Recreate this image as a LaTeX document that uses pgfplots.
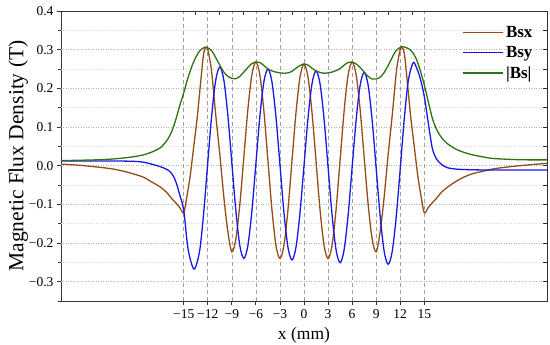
\documentclass[border=0pt]{standalone}
\usepackage{pgfplots}
\pgfplotsset{compat=1.18}
\usepackage{fontspec}
\setmainfont{Liberation Serif}
\definecolor{cbrown}{RGB}{150,75,25}
\definecolor{cblue}{RGB}{25,25,230}
\definecolor{cgreen}{RGB}{45,115,20}
\begin{document}
\begin{tikzpicture}
\useasboundingbox (-61pt,-44pt) rectangle (489pt,301pt);
\begin{axis}[
  at={(0,0)}, anchor=south west,
  scale only axis, width=486pt, height=290pt,
  xmin=-30.3, xmax=30.3, ymin=-0.35, ymax=0.4,
  axis line style={line width=0.8pt, black!80},
  xtick={-15,-12,-9,-6,-3,0,3,6,9,12,15},
  xticklabels={−15,−12,−9,−6,−3,0,3,6,9,12,15},
  ytick={-0.3,-0.2,-0.1,0,0.1,0.2,0.3,0.4},
  yticklabels={−0.3,−0.2,−0.1,0.0,0.1,0.2,0.3,0.4},
  minor ytick={-0.35,-0.25,-0.15,-0.05,0.05,0.15,0.25,0.35},
  xtick pos=bottom, ytick pos=left, tick align=outside,
  major tick length=4pt, minor tick length=2.5pt,
  tick style={line width=0.8pt, black!80},
  ticklabel style={font=\fontsize{13.5}{15}\selectfont},
  xticklabel style={yshift=-1pt},
  xlabel={x (mm)}, ylabel={Magnetic Flux Density (T)},
  xlabel style={font=\fontsize{17.5}{20}\selectfont, at={(axis description cs:0.5,-0.117)}, anchor=center},
  ylabel style={font=\fontsize{21.5}{24}\selectfont, at={(axis description cs:-0.088,0.5)}, anchor=center},
  legend style={at={(0.82,0.962)}, anchor=north west, draw=none, fill=none,
    font=\bfseries\fontsize{17}{19}\selectfont, row sep=3.5pt},
  legend cell align=left,
  legend image code/.code={\draw[#1, line width=1.3pt] (0pt,0pt) -- (40pt,0pt);},
  every axis plot/.append style={line width=1.3pt, smooth},
]
\pgfplotsinvokeforeach{-0.25,-0.15,-0.05,0.05,0.15,0.25,0.35}{
  \draw[gray!30, dash pattern=on 1pt off 1.5pt, line width=0.5pt] (axis cs:-30.3,#1) -- (axis cs:30.3,#1);}
\pgfplotsinvokeforeach{-0.3,-0.2,-0.1,0,0.1,0.2,0.3}{
  \draw[gray!60, dash pattern=on 1pt off 1.5pt, line width=0.5pt] (axis cs:-30.3,#1) -- (axis cs:30.3,#1);}
\pgfplotsinvokeforeach{-15,-12,-9,-6,-3,0,3,6,9,12,15}{
  \draw[gray!75, dash pattern=on 4pt off 3pt, line width=0.6pt] (axis cs:#1,-0.35) -- (axis cs:#1,0.4);}

\addplot[cbrown] coordinates {
(-30.3,0.004) (-28,0.001) (-26,-0.003) (-24,-0.008) (-23,-0.012) (-22,-0.017) (-21,-0.023) (-20,-0.030) (-19,-0.042) (-18,-0.054) (-17.5,-0.062) (-17,-0.072) (-16.5,-0.085) (-16,-0.096) (-15.5,-0.108) (-15,-0.122) (-14.6,-0.080) (-14.2,-0.028) (-13.75,0.049) (-13.3,0.127) (-12.9,0.213) (-12.5,0.291) (-12.1,0.306) (-11.75,0.275) (-11.5,0.240) (-11,0.130) (-10.5,0.030) (-10,-0.080) (-9.5,-0.170) (-9,-0.223) (-8.5,-0.190) (-8,-0.100) (-7.5,0.022) (-7,0.145) (-6.5,0.235) (-6,0.268) (-5.5,0.234) (-5,0.141) (-4.5,0.014) (-4,-0.113) (-3.5,-0.206) (-3,-0.240) (-2.5,-0.206) (-2,-0.114) (-1.5,0.012) (-1,0.137) (-0.5,0.229) (0,0.263) (0.5,0.229) (1,0.137) (1.5,0.012) (2,-0.114) (2.5,-0.206) (3,-0.240) (3.5,-0.206) (4,-0.113) (4.5,0.014) (5,0.141) (5.5,0.234) (6,0.268) (6.5,0.235) (7,0.145) (7.5,0.022) (8,-0.100) (8.5,-0.190) (9,-0.223) (9.5,-0.170) (10,-0.080) (10.5,0.030) (11,0.130) (11.5,0.240) (11.75,0.275) (12.1,0.306) (12.5,0.291) (12.9,0.213) (13.3,0.127) (13.75,0.049) (14.2,-0.028) (14.6,-0.080) (15,-0.122) (15.5,-0.108) (16,-0.096) (16.5,-0.085) (17,-0.072) (17.5,-0.062) (18,-0.054) (19,-0.040) (20,-0.029) (21,-0.021) (22,-0.016) (23,-0.011) (24,-0.007) (26,-0.002) (28,0.002) (30.3,0.006)
};
\addlegendentry{Bsx}
\addplot[cblue] coordinates {
(-30.3,0.012) (-26,0.012) (-23,0.012) (-21,0.011) (-20,0.009) (-19,0.004) (-18,-0.002) (-17.5,-0.006) (-17,-0.011) (-16.5,-0.020) (-16,-0.040) (-15.5,-0.075) (-15,-0.115) (-14.5,-0.210) (-14,-0.255) (-13.6,-0.266) (-13,-0.219) (-12.5,-0.120) (-12,0.008) (-11.5,0.132) (-11,0.222) (-10.5,0.255) (-10,0.222) (-9.5,0.131) (-9,0.008) (-8.5,-0.116) (-8,-0.207) (-7.5,-0.240) (-7,-0.207) (-6.5,-0.118) (-6,0.005) (-5.5,0.128) (-5,0.217) (-4.5,0.250) (-4,0.217) (-3.5,0.127) (-3,0.003) (-2.5,-0.121) (-2,-0.211) (-1.5,-0.244) (-1,-0.211) (-0.5,-0.122) (0,0.000) (0.5,0.123) (1,0.212) (1.5,0.245) (2,0.212) (2.5,0.121) (3,-0.003) (3.5,-0.127) (4,-0.218) (4.5,-0.251) (5,-0.218) (5.5,-0.128) (6,-0.005) (6.5,0.118) (7,0.208) (7.5,0.241) (8,0.208) (8.5,0.117) (9,-0.007) (9.5,-0.131) (10,-0.222) (10.5,-0.255) (11,-0.222) (11.5,-0.132) (12,-0.008) (12.5,0.120) (13,0.219) (13.6,0.266) (14,0.255) (14.5,0.225) (15,0.179) (15.5,0.110) (16,0.045) (16.5,0.018) (17,0.006) (17.5,-0.002) (18,-0.006) (19,-0.009) (20,-0.010) (22,-0.011) (26,-0.011) (30.3,-0.011)
};
\addlegendentry{Bsy}
\addplot[cgreen] coordinates {
(-30.3,0.013) (-28,0.014) (-26,0.015) (-24,0.017) (-22,0.021) (-21,0.024) (-20,0.028) (-19,0.035) (-18,0.045) (-17.5,0.055) (-17,0.068) (-16.5,0.088) (-16,0.118) (-15.5,0.155) (-15,0.188) (-14.5,0.225) (-14,0.256) (-13.5,0.280) (-13,0.297) (-12.5,0.305) (-12.2,0.307) (-11.5,0.297) (-11,0.279) (-10.5,0.260) (-10,0.242) (-9.5,0.231) (-9,0.226) (-8.5,0.225) (-8,0.231) (-7.5,0.242) (-7,0.254) (-6.5,0.264) (-6,0.268) (-5.5,0.267) (-5,0.259) (-4.5,0.250) (-4,0.245) (-3.5,0.242) (-3,0.240) (-2.5,0.239) (-2,0.240) (-1.5,0.244) (-1,0.252) (-0.5,0.259) (0,0.263) (0.5,0.260) (1,0.252) (1.5,0.245) (2,0.241) (2.5,0.239) (3,0.240) (3.5,0.242) (4,0.246) (4.5,0.251) (5,0.260) (5.5,0.267) (6,0.268) (6.5,0.263) (7,0.254) (7.5,0.242) (8,0.231) (8.5,0.224) (9,0.224) (9.5,0.229) (10,0.241) (10.5,0.259) (11,0.280) (11.5,0.298) (12.2,0.308) (12.5,0.307) (13,0.303) (13.5,0.294) (14,0.276) (14.5,0.246) (15,0.209) (15.5,0.165) (16,0.123) (16.5,0.095) (17,0.077) (17.5,0.064) (18,0.055) (19,0.042) (20,0.034) (21,0.028) (22,0.024) (23,0.020) (24,0.018) (26,0.016) (28,0.015) (30.3,0.015)
};
\addlegendentry{|Bs|}
\end{axis}
\begin{axis}[
  at={(0,0)}, anchor=south west,
  scale only axis, width=486pt, height=290pt,
  xmin=-30.3, xmax=30.3, ymin=-0.35, ymax=0.4,
  axis x line*=top, axis y line*=right,
  axis line style={line width=0.8pt, black!80},
  xtick={-13.5,-10.5,-7.5,-4.5,-1.5,1.5,4.5,7.5,10.5,13.5},
  ytick={-0.35,-0.3,-0.25,-0.2,-0.15,-0.1,-0.05,0,0.05,0.1,0.15,0.2,0.25,0.3,0.35},
  xticklabels={}, yticklabels={},
  tick align=inside, major tick length=4pt,
  tick style={line width=0.8pt, black!80},
]
\end{axis}
\end{tikzpicture}
\end{document}
